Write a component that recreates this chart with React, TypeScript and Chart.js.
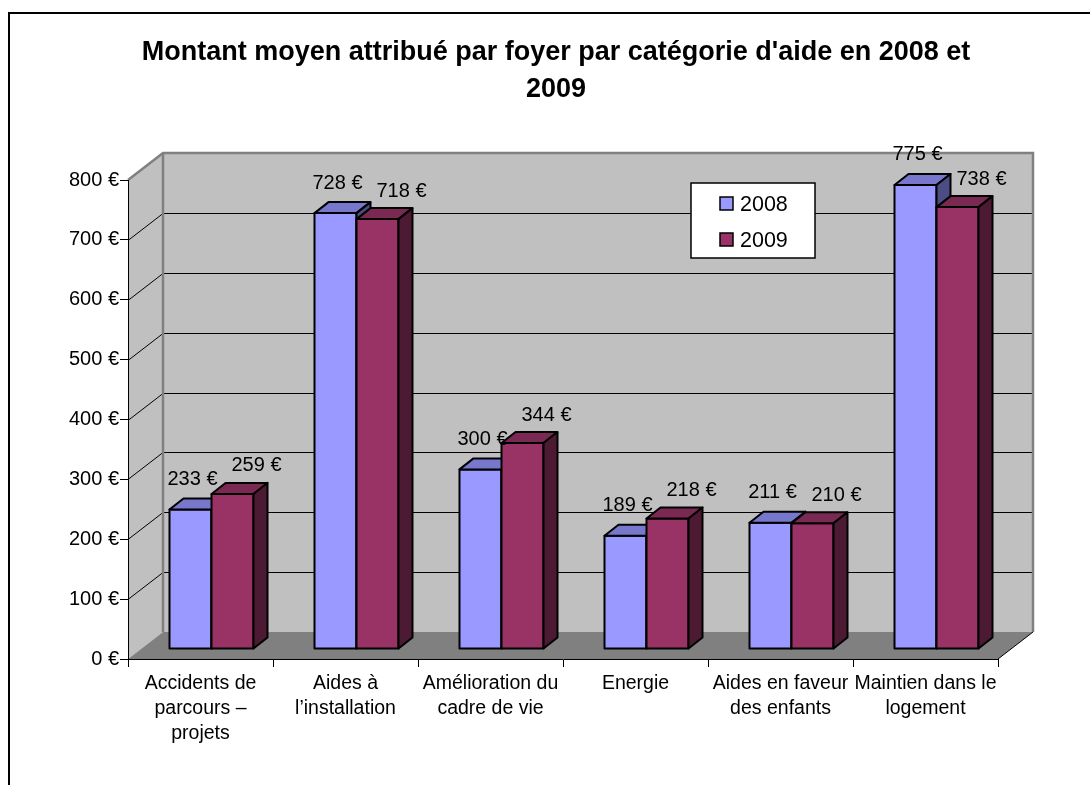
import React, { useEffect, useRef } from "react";
import { Chart, registerables } from "chart.js";

Chart.register(...registerables);

// ---------- data ----------
const titleLines = [
  "Montant moyen attribué par foyer par catégorie d'aide en 2008 et",
  "2009",
];
const categories: string[][] = [
  ["Accidents de", "parcours –", "projets"],
  ["Aides à", "l’installation"],
  ["Amélioration du", "cadre de vie"],
  ["Energie"],
  ["Aides en faveur", "des enfants"],
  ["Maintien dans le", "logement"],
];
const seriesLabels = ["2008", "2009"];
const values2008 = [233, 728, 300, 189, 211, 775];
const values2009 = [259, 718, 344, 218, 210, 738];
const yMin = 0;
const yMax = 800;
const yStep = 100;
const currency = "€";

// ---------- style ----------
const frontColors = ["#9999FF", "#993366"];
const topColors = ["#7777CC", "#7A2952"];
const sideColors = ["#4D4D85", "#4D1A33"];
const FONT = "'Liberation Sans', Arial, Helvetica, sans-serif";

const WALL = { dx: 35, dy: -27 };
const SHIFT = { dx: 11, dy: -10 };
const DEPTH = { dx: 14, dy: -11 };
const LABEL_OFF = [
  { dx: 2, dy: -30 },
  { dx: 24, dy: -28 },
];

function poly(ctx: CanvasRenderingContext2D, pts: number[][], fill?: string, stroke?: string, lw = 1) {
  ctx.beginPath();
  ctx.moveTo(pts[0][0], pts[0][1]);
  for (let i = 1; i < pts.length; i++) ctx.lineTo(pts[i][0], pts[i][1]);
  ctx.closePath();
  if (fill) {
    ctx.fillStyle = fill;
    ctx.fill();
  }
  if (stroke) {
    ctx.strokeStyle = stroke;
    ctx.lineWidth = lw;
    ctx.stroke();
  }
}

const excel3D = {
  id: "excel3D",
  beforeDraw(chart: any) {
    const { ctx, chartArea: a } = chart;
    const y = chart.scales.y;
    const L = a.left, R = a.right, T = a.top, B = a.bottom;
    const dx = WALL.dx, dy = WALL.dy;
    ctx.save();
    // back wall
    poly(ctx, [[L + dx, T + dy], [R + dx, T + dy], [R + dx, B + dy], [L + dx, B + dy]], "#C0C0C0");
    // side wall
    poly(ctx, [[L, T], [L + dx, T + dy], [L + dx, B + dy], [L, B]], "#C0C0C0");
    // floor
    poly(ctx, [[L, B], [R, B], [R + dx, B + dy], [L + dx, B + dy]], "#808080");
    // grid lines on walls
    ctx.strokeStyle = "#000";
    ctx.lineWidth = 1;
    for (const t of y.ticks) {
      if (t.value <= y.min || t.value >= y.max) continue;
      const py = Math.round(y.getPixelForValue(t.value)) + 0.5;
      ctx.beginPath();
      ctx.moveTo(L, py);
      ctx.lineTo(L + dx, py + dy);
      ctx.lineTo(R + dx, py + dy);
      ctx.stroke();
    }
    // wall edges
    ctx.strokeStyle = "#808080";
    ctx.lineWidth = 2.5;
    ctx.lineJoin = "miter";
    ctx.beginPath();
    ctx.moveTo(L, T);
    ctx.lineTo(L + dx, T + dy);
    ctx.lineTo(R + dx, T + dy);
    ctx.lineTo(R + dx, B + dy);
    ctx.stroke();
    ctx.beginPath();
    ctx.moveTo(L + dx, T + dy);
    ctx.lineTo(L + dx, B + dy);
    ctx.stroke();
    // floor right edge
    ctx.strokeStyle = "#000";
    ctx.lineWidth = 1;
    ctx.beginPath();
    ctx.moveTo(R, B);
    ctx.lineTo(R + dx, B + dy);
    ctx.stroke();
    ctx.restore();
  },
  beforeDatasetsDraw(chart: any) {
    chart.ctx.save();
    chart.ctx.translate(SHIFT.dx, SHIFT.dy);
  },
  beforeDatasetDraw() {
    return false;
  },
  afterDatasetsDraw(chart: any) {
    const ctx: CanvasRenderingContext2D = chart.ctx;
    const n = chart.data.labels.length;
    const metas = chart.data.datasets.map((_: any, i: number) => chart.getDatasetMeta(i));
    for (let j = 0; j < n; j++) {
      metas.forEach((meta: any, di: number) => {
        const el = meta.data[j];
        if (!el) return;
        const { x, y, base, width } = el.getProps(["x", "y", "base", "width"], true);
        const l = x - width / 2;
        const r = x + width / 2;
        el.draw(ctx);
        ctx.lineJoin = "round";
        ctx.strokeStyle = "#000";
        ctx.lineWidth = 2;
        ctx.strokeRect(l, y, width, base - y);
        poly(ctx, [[l, y], [r, y], [r + DEPTH.dx, y + DEPTH.dy], [l + DEPTH.dx, y + DEPTH.dy]], topColors[di], "#000", 2);
        poly(ctx, [[r, y], [r + DEPTH.dx, y + DEPTH.dy], [r + DEPTH.dx, base + DEPTH.dy], [r, base]], sideColors[di], "#000", 2);
      });
    }
    // value labels
    ctx.font = `20px ${FONT}`;
    ctx.fillStyle = "#000";
    ctx.textAlign = "center";
    ctx.textBaseline = "middle";
    metas.forEach((meta: any, di: number) => {
      const ds = chart.data.datasets[di];
      meta.data.forEach((el: any, j: number) => {
        const { x, y } = el.getProps(["x", "y"], true);
        ctx.fillText(`${ds.data[j]} ${currency}`, x + LABEL_OFF[di].dx, y + LABEL_OFF[di].dy);
      });
    });
    ctx.restore();
  },
  afterDraw(chart: any) {
    const { ctx, chartArea: a } = chart;
    const bx = a.left + 563, by = a.top + 3, bw = 124, bh = 75;
    ctx.save();
    ctx.fillStyle = "#FFFFFF";
    ctx.fillRect(bx, by, bw, bh);
    ctx.strokeStyle = "#000";
    ctx.lineWidth = 1.5;
    ctx.strokeRect(bx, by, bw, bh);
    ctx.font = `21.5px ${FONT}`;
    ctx.textAlign = "left";
    ctx.textBaseline = "middle";
    chart.data.datasets.forEach((ds: any, i: number) => {
      const cy = by + 21 + i * 36;
      ctx.fillStyle = ds.backgroundColor;
      ctx.fillRect(bx + 29, cy - 7, 13, 13);
      ctx.strokeStyle = "#000";
      ctx.lineWidth = 1.5;
      ctx.strokeRect(bx + 29, cy - 7, 13, 13);
      ctx.fillStyle = "#000";
      ctx.fillText(ds.label, bx + 49, cy + 1);
    });
    ctx.restore();
  },
};

export default function App() {
  const ref = useRef<HTMLCanvasElement | null>(null);
  useEffect(() => {
    if (!ref.current) return;
    const chart = new Chart(ref.current, {
      type: "bar",
      data: {
        labels: categories,
        datasets: [
          {
            label: seriesLabels[0],
            data: values2008,
            backgroundColor: frontColors[0],
            borderWidth: 0,
            categoryPercentage: 84 / 145,
            barPercentage: 1,
          },
          {
            label: seriesLabels[1],
            data: values2009,
            backgroundColor: frontColors[1],
            borderWidth: 0,
            categoryPercentage: 84 / 145,
            barPercentage: 1,
          },
        ],
      },
      options: {
        responsive: false,
        animation: false,
        devicePixelRatio: 1,
        layout: { padding: { left: 22, right: 0, top: 0, bottom: 0 } },
        plugins: {
          legend: { display: false },
          tooltip: { enabled: false },
          title: {
            display: true,
            text: titleLines,
            color: "#000",
            font: { family: FONT, size: 27, weight: "bold", lineHeight: 37 / 27 },
            padding: { top: 34, bottom: 72 },
          },
        },
        scales: {
          x: {
            offset: true,
            grid: { offset: true, drawOnChartArea: false, drawTicks: true, tickLength: 8, color: "#000" },
            border: { display: true, color: "#000", width: 1 },
            ticks: {
              color: "#000",
              font: { family: FONT, size: 19.5, lineHeight: 25 / 19.5 },
              padding: 4,
              maxRotation: 0,
              minRotation: 0,
              autoSkip: false,
            },
            afterFit: (s: any) => {
              s.height = 126;
            },
          },
          y: {
            min: yMin,
            max: yMax,
            grid: { drawOnChartArea: false, drawTicks: true, tickLength: 8, color: "#000" },
            border: { display: true, color: "#000", width: 1 },
            ticks: {
              stepSize: yStep,
              color: "#000",
              font: { family: FONT, size: 20 },
              padding: 1,
              callback: (v: any) => `${v} ${currency}`,
            },
            afterFit: (s: any) => {
              s.width = 106;
            },
          },
          yRight: {
            position: "right",
            display: true,
            min: yMin,
            max: yMax,
            grid: { display: false, drawTicks: false },
            border: { display: false },
            ticks: { display: false },
            afterFit: (s: any) => {
              s.width = 92;
            },
          },
        },
      },
      plugins: [excel3D],
    });
    return () => chart.destroy();
  }, []);

  return (
    <div style={{ position: "fixed", left: 0, top: 0, width: 1090, height: 785, overflow: "hidden", background: "#fff" }}>
      <div
        style={{
          position: "absolute",
          left: 8,
          top: 12,
          width: 2000,
          height: 2000,
          border: "2px solid #000",
          boxSizing: "border-box",
        }}
      />
      <canvas
        ref={ref}
        width={1090}
        height={785}
        style={{ position: "absolute", left: 0, top: 0, width: 1090, height: 785, display: "block" }}
      />
    </div>
  );
}
